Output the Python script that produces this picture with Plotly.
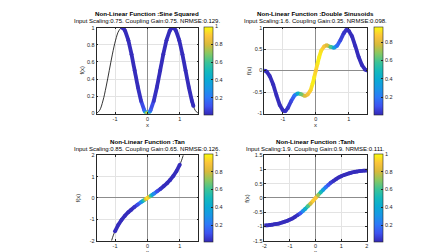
import plotly.graph_objects as go

W, H = 448, 252

# ---------------- data ----------------
# Panel 1: Sine Squared
SS_LINE_X = [-1.571, -1.473, -1.374, -1.276, -1.178, -1.080, -0.982, -0.884, -0.785, -0.687, -0.589,
             -0.491, -0.393, -0.295, -0.196, -0.098, 0, 0.098, 0.196, 0.295, 0.393, 0.491, 0.589,
             0.687, 0.785, 0.884, 0.982, 1.080, 1.178, 1.276, 1.374, 1.473, 1.571]
SS_LINE_Y = [0, 0.038, 0.146, 0.309, 0.5, 0.691, 0.854, 0.962, 1, 0.962, 0.854, 0.691, 0.5, 0.309,
             0.146, 0.038, 0, 0.038, 0.146, 0.309, 0.5, 0.691, 0.854, 0.962, 1, 0.962, 0.854, 0.691,
             0.5, 0.309, 0.146, 0.038, 0]
SS_X = [-0.785, -0.736, -0.687, -0.589, -0.491, -0.393, -0.295, -0.196, -0.098, -0.06, -0.03, 0,
        0.03, 0.06, 0.098, 0.196, 0.295, 0.393, 0.491, 0.589, 0.687, 0.736, 0.785, 0.834, 0.884,
        0.982, 1.080, 1.178, 1.276, 1.374, 1.42]
SS_Y = [1, 0.99, 0.962, 0.854, 0.691, 0.5, 0.309, 0.146, 0.038, 0.014, 0.004, 0, 0.004, 0.014,
        0.038, 0.146, 0.309, 0.5, 0.691, 0.854, 0.962, 0.99, 1, 0.99, 0.962, 0.854, 0.691, 0.5,
        0.309, 0.146, 0.088]
SS_C = [0.02, 0.02, 0.02, 0.02, 0.02, 0.02, 0.02, 0.04, 0.15, 0.35, 0.7, 0.97, 0.7, 0.35, 0.15,
        0.04, 0.02, 0.02, 0.02, 0.02, 0.02, 0.02, 0.02, 0.02, 0.02, 0.02, 0.02, 0.02, 0.02, 0.02, 0.02]

# Panel 2: Double Sinusoids
DS_X = [-1.571, -1.5, -1.4, -1.3, -1.2, -1.1, -1.0, -0.93, -0.85, -0.75, -0.65, -0.55, -0.45,
        -0.33, -0.25, -0.16, -0.1, -0.05, 0, 0.05, 0.1, 0.16, 0.25, 0.33, 0.45, 0.55, 0.65, 0.75,
        0.85, 0.93, 1.0, 1.1, 1.2, 1.3, 1.4, 1.5, 1.571]
DS_Y = [0, -0.02, -0.13, -0.32, -0.57, -0.8, -0.93, -0.95, -0.87, -0.71, -0.58, -0.53, -0.55,
        -0.59, -0.56, -0.46, -0.31, -0.16, 0, 0.16, 0.31, 0.46, 0.56, 0.59, 0.55, 0.53, 0.58, 0.71,
        0.87, 0.95, 0.93, 0.8, 0.57, 0.32, 0.13, 0.02, 0]
DS_C = [0.02, 0.02, 0.02, 0.02, 0.02, 0.02, 0.02, 0.03, 0.04, 0.08, 0.2, 0.42, 0.65, 0.8, 0.85,
        0.9, 0.95, 0.94, 0.88, 0.94, 0.95, 0.92, 0.86, 0.8, 0.6, 0.35, 0.18, 0.08, 0.04, 0.03,
        0.02, 0.02, 0.02, 0.02, 0.02, 0.02, 0.02]

# Panel 3: Tan
TAN_LINE_X = [-1.107, -1.05, -1.0, -0.9, -0.8, -0.7, -0.6, -0.5, -0.4, -0.3, -0.2, -0.1, 0, 0.1,
              0.2, 0.3, 0.4, 0.5, 0.6, 0.7, 0.8, 0.9, 1.0, 1.05, 1.107]
TAN_LINE_Y = [-2.0, -1.74, -1.56, -1.26, -1.03, -0.84, -0.68, -0.55, -0.42, -0.31, -0.2, -0.1, 0,
              0.1, 0.2, 0.31, 0.42, 0.55, 0.68, 0.84, 1.03, 1.26, 1.56, 1.74, 2.0]
TAN_X = [-1.0, -0.9, -0.8, -0.7, -0.6, -0.5, -0.4, -0.3, -0.2, -0.15, -0.1, -0.05, 0, 0.05, 0.1,
         0.15, 0.2, 0.3, 0.4, 0.5, 0.6, 0.7, 0.8, 0.9, 1.0]
TAN_Y = [-1.56, -1.26, -1.03, -0.84, -0.68, -0.55, -0.42, -0.31, -0.2, -0.15, -0.1, -0.05, 0, 0.05,
         0.1, 0.15, 0.2, 0.31, 0.42, 0.55, 0.68, 0.84, 1.03, 1.26, 1.56]
TAN_C = [0.02, 0.02, 0.02, 0.02, 0.02, 0.02, 0.04, 0.1, 0.25, 0.4, 0.6, 0.85, 0.97, 0.85, 0.6, 0.4,
         0.25, 0.1, 0.04, 0.02, 0.02, 0.02, 0.02, 0.02, 0.02]

# Panel 4: Tanh
TANH_X = [-2.0, -1.9, -1.8, -1.7, -1.6, -1.5, -1.4, -1.3, -1.2, -1.1, -1.0, -0.9, -0.8, -0.7, -0.6,
          -0.5, -0.4, -0.3, -0.2, -0.1, 0.0, 0.1, 0.2, 0.3, 0.4, 0.5, 0.6, 0.7, 0.8, 0.9, 1.0, 1.1,
          1.2, 1.3, 1.4, 1.5, 1.6, 1.7, 1.8, 1.9, 2.0]
TANH_Y = [-0.96, -0.96, -0.95, -0.94, -0.92, -0.91, -0.89, -0.86, -0.83, -0.8, -0.76, -0.72, -0.66,
          -0.6, -0.54, -0.46, -0.38, -0.29, -0.2, -0.1, 0, 0.1, 0.2, 0.29, 0.38, 0.46, 0.54, 0.6,
          0.66, 0.72, 0.76, 0.8, 0.83, 0.86, 0.89, 0.91, 0.92, 0.94, 0.95, 0.96, 0.96]
TANH_C = [0.02] * 13 + [0.04, 0.12, 0.28, 0.45, 0.62, 0.8, 0.92, 0.9, 0.72, 0.52, 0.34, 0.2, 0.11,
                        0.06, 0.03] + [0.02] * 13

TITLES = ["Non-Linear Function :Sine Squared", "Non-Linear Function :Double Sinusoids",
          "Non-Linear Function :Tan", "Non-Linear Function :Tanh"]
SUBTITLES = ["Input Scaling:0.75. Coupling Gain:0.75. NRMSE:0.129.",
             "Input Scaling:1.6. Coupling Gain:0.35. NRMSE:0.098.",
             "Input Scaling:0.85. Coupling Gain:0.65. NRMSE:0.126.",
             "Input Scaling:1.9. Coupling Gain:0.9. NRMSE:0.111."]

# ---------------- styling ----------------
PARULA = [(0.0, (52, 40, 182)), (0.1, (62, 82, 240)), (0.2, (45, 120, 248)),
          (0.3, (25, 150, 230)), (0.4, (10, 170, 212)), (0.5, (20, 185, 188)),
          (0.6, (60, 195, 150)), (0.7, (135, 200, 98)), (0.8, (215, 186, 58)),
          (0.9, (252, 196, 58)), (1.0, (249, 251, 14))]
CSCALE = [[p, "rgb(%d,%d,%d)" % c] for p, c in PARULA]


def cmap(v, cmin, cmax):
    t = (v - cmin) / (cmax - cmin)
    t = max(0.0, min(1.0, t))
    for (p0, c0), (p1, c1) in zip(PARULA[:-1], PARULA[1:]):
        if t <= p1:
            f = (t - p0) / (p1 - p0)
            return "rgb(%d,%d,%d)" % tuple(round(a + (b - a) * f) for a, b in zip(c0, c1))
    return "rgb(%d,%d,%d)" % PARULA[-1][1]


FONT = "Liberation Sans, Arial, Helvetica, sans-serif"
TXT = "#262626"

# pixel boxes: (left, right, top, bottom), colorbar left, colorbar thickness
BOXES = [(87.3, 190.0, 17.0, 105.0), (256.5, 360.7, 17.0, 105.0),
         (87.3, 190.0, 147.7, 235.3), (256.7, 360.0, 147.7, 235.3)]
CBAR = [(196.0, 8.5), (367.3, 9.4), (195.5, 8.5), (367.0, 9.0)]
YLAB_X = [71.7, 240.7, 69.0, 239.0]

panels = [
    dict(lx=SS_LINE_X, ly=SS_LINE_Y, x=SS_X, y=SS_Y, c=SS_C, xr=[-1.5708, 1.5708], yr=[0, 1],
         xt=[-1, 0, 1], yt=[0, 0.2, 0.4, 0.6, 0.8, 1], cmin=0.01, cmax=1.0,
         ct=[0.2, 0.4, 0.6, 0.8, 1]),
    dict(lx=DS_X, ly=DS_Y, x=DS_X, y=DS_Y, c=DS_C, xr=[-1.5708, 1.5708], yr=[-1, 1],
         xt=[-1, 0, 1], yt=[-1, -0.5, 0, 0.5, 1], cmin=0.01, cmax=0.97,
         ct=[0.2, 0.4, 0.6, 0.8]),
    dict(lx=TAN_LINE_X, ly=TAN_LINE_Y, x=TAN_X, y=TAN_Y, c=TAN_C, xr=[-1.5708, 1.5708], yr=[-2, 2],
         xt=[-1, 0, 1], yt=[-2, -1, 0, 1, 2], cmin=0.01, cmax=1.0,
         ct=[0.2, 0.4, 0.6, 0.8, 1]),
    dict(lx=TANH_X, ly=TANH_Y, x=TANH_X, y=TANH_Y, c=TANH_C, xr=[-2, 2], yr=[-1.5, 1.5],
         xt=[-2, -1, 0, 1, 2], yt=[-1.5, -1, -0.5, 0, 0.5, 1, 1.5], cmin=0.01, cmax=1.0,
         ct=[0.2, 0.4, 0.6, 0.8, 1]),
]

fig = go.Figure()
annotations = []
layout_axes = {}

for i, p in enumerate(panels, 1):
    xa = "x" if i == 1 else "x%d" % i
    ya = "y" if i == 1 else "y%d" % i
    L, R, T, B = BOXES[i - 1]

    # thin black function line
    fig.add_trace(go.Scatter(x=p["lx"], y=p["ly"], mode="lines", xaxis=xa, yaxis=ya,
                             line=dict(color="black", width=0.8, shape="spline"),
                             hoverinfo="skip", showlegend=False))
    # thick coloured curve made of segments
    for k in range(len(p["x"]) - 1):
        cm = 0.5 * (p["c"][k] + p["c"][k + 1])
        fig.add_trace(go.Scatter(x=p["x"][k:k + 2], y=p["y"][k:k + 2], mode="lines",
                                 xaxis=xa, yaxis=ya,
                                 line=dict(color=cmap(cm, p["cmin"], p["cmax"]), width=3.8),
                                 hoverinfo="skip", showlegend=False))
    cbl, cbt = CBAR[i - 1]
    fig.add_trace(go.Scatter(
        x=p["x"], y=p["y"], mode="markers", xaxis=xa, yaxis=ya, showlegend=False,
        marker=dict(size=3.8, color=p["c"], colorscale=CSCALE, cmin=p["cmin"], cmax=p["cmax"],
                    line=dict(width=0),
                    colorbar=dict(x=cbl / W, xanchor="left", xref="paper",
                                  y=1 - (T + B) / 2 / H, yanchor="middle", yref="paper",
                                  len=B - T, lenmode="pixels", thickness=cbt,
                                  thicknessmode="pixels", xpad=0, ypad=0,
                                  outlinewidth=0.6, outlinecolor=TXT,
                                  ticks="inside", ticklen=2, tickwidth=0.5, tickcolor=TXT,
                                  tickvals=p["ct"], ticktext=[("%g" % v) for v in p["ct"]],
                                  tickfont=dict(size=5.5, color=TXT, family=FONT)))))

    axcommon = dict(showgrid=True, gridcolor="#e3e3e3", gridwidth=1,
                    zeroline=True, zerolinecolor="#8c8c8c", zerolinewidth=1.2,
                    showline=True, mirror="ticks", linecolor=TXT, linewidth=0.6,
                    ticks="inside", ticklen=2, tickwidth=0.5, tickcolor=TXT,
                    tickfont=dict(size=5.5, color=TXT, family=FONT), fixedrange=True)
    layout_axes["xaxis" if i == 1 else "xaxis%d" % i] = dict(
        axcommon, domain=[L / W, R / W], range=p["xr"], tickvals=p["xt"],
        ticktext=[("%g" % v) for v in p["xt"]], anchor=ya)
    layout_axes["yaxis" if i == 1 else "yaxis%d" % i] = dict(
        axcommon, domain=[1 - B / H, 1 - T / H], range=p["yr"], tickvals=p["yt"],
        ticktext=[("%g" % v) for v in p["yt"]], anchor=xa)

    cx = (L + R) / 2 / W
    annotations.append(dict(text="<b>%s</b>" % TITLES[i - 1], x=cx, y=1 - (T - 14.0) / H,
                            xref="paper", yref="paper", showarrow=False, xanchor="center",
                            yanchor="middle", borderpad=0,
                            font=dict(size=6.2, color="black", family=FONT)))
    annotations.append(dict(text=SUBTITLES[i - 1], x=cx, y=1 - (T - 6.5) / H,
                            xref="paper", yref="paper", showarrow=False, xanchor="center",
                            yanchor="middle", borderpad=0,
                            font=dict(size=6.0, color="black", family=FONT)))
    annotations.append(dict(text="x", x=cx, y=1 - (B + 11.3) / H, xref="paper", yref="paper",
                            showarrow=False, xanchor="center", yanchor="middle", borderpad=0,
                            font=dict(size=6, color=TXT, family=FONT)))
    annotations.append(dict(text="f(x)", x=YLAB_X[i - 1] / W, y=1 - (T + B) / 2 / H,
                            xref="paper", yref="paper", showarrow=False, textangle=-90,
                            xanchor="center", yanchor="middle", borderpad=0,
                            font=dict(size=6, color=TXT, family=FONT)))

fig.update_layout(width=W, height=H, margin=dict(l=0, r=0, t=0, b=0),
                  paper_bgcolor="white", plot_bgcolor="white",
                  annotations=annotations, showlegend=False, **layout_axes)

fig.write_html("out.html")
